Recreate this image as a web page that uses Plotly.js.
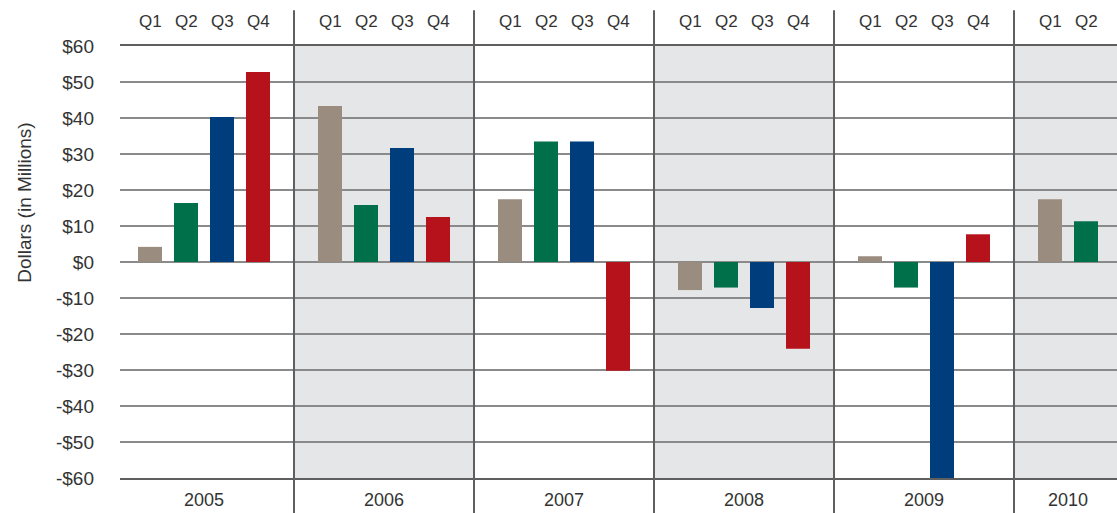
<!DOCTYPE html>
<html>
<head>
<meta charset="utf-8">
<script src="https://cdn.plot.ly/plotly-3.0.1.min.js"></script>
<style>html,body{margin:0;padding:0;background:#fff;}#chart{width:1117px;height:513px;}</style>
</head>
<body>
<div id="chart"></div>
<script>
// ---- data ----
const years = ['2005', '2006', '2007', '2008', '2009', '2010'];
const quarters = ['Q1', 'Q2', 'Q3', 'Q4'];
const q1Values = [4.2, 43.3, 17.4, -7.8, 1.6, 17.4];
const q2Values = [16.4, 15.8, 33.5, -7.1, -7.1, 11.3];
const q3Values = [40.3, 31.7, 33.5, -12.8, -60.0, null];
const q4Values = [52.8, 12.5, -30.2, -24.1, 7.7, null];
const yTickValues = [60, 50, 40, 30, 20, 10, 0, -10, -20, -30, -40, -50, -60];
const yTickLabels = ['$60', '$50', '$40', '$30', '$20', '$10', '$0', '-$10', '-$20', '-$30', '-$40', '-$50', '-$60'];
const yTitle = 'Dollars (in Millions)';

// ---- styling ----
const seriesValues = [q1Values, q2Values, q3Values, q4Values];
const colors = ['#9a8c7e', '#00704a', '#003d7d', '#b5121b'];
const slotsPerYear = 5;
const font = 'Liberation Sans, Arial, Helvetica, sans-serif';
const pos = (yi, qi) => yi * slotsPerYear + qi + 1;

const traces = seriesValues.map((vals, qi) => ({
  type: 'bar',
  name: quarters[qi],
  x: years.map((y, yi) => pos(yi, qi)),
  y: vals,
  width: 0.667,
  marker: {color: colors[qi], line: {width: 0}},
  hoverinfo: 'skip',
  showlegend: false
}));

const shapes = [];
const annotations = [];
years.forEach((yr, yi) => {
  if (yi % 2 === 1) {
    shapes.push({type: 'rect', layer: 'below', xref: 'x', yref: 'y',
      x0: yi * slotsPerYear, x1: (yi + 1) * slotsPerYear, y0: -60, y1: 60,
      fillcolor: '#e5e6e8', line: {width: 0}});
  }
  if (yi > 0) {
    shapes.push({type: 'line', layer: 'above', xref: 'x', yref: 'paper',
      x0: yi * slotsPerYear, x1: yi * slotsPerYear, y0: -0.085, y1: 1.083,
      line: {color: '#5f5f5f', width: 2}});
  }
  const present = quarters.map((q, qi) => qi).filter(qi => seriesValues[qi][yi] !== null);
  present.forEach(qi => {
    annotations.push({xref: 'x', yref: 'paper', x: pos(yi, qi), y: 1.0556,
      text: quarters[qi], showarrow: false, xanchor: 'center', yanchor: 'middle',
      font: {family: font, size: 17, color: '#333'}});
  });
  const mid = present.reduce((s, qi) => s + pos(yi, qi), 0) / present.length;
  annotations.push({xref: 'x', yref: 'paper', x: mid, y: -0.051,
    text: yr, showarrow: false, xanchor: 'center', yanchor: 'middle',
    font: {family: font, size: 18, color: '#333'}});
});
annotations.push({xref: 'paper', yref: 'paper', x: -0.0953, y: 0.637,
  text: yTitle, textangle: -90, showarrow: false, xanchor: 'center', yanchor: 'middle',
  font: {family: font, size: 19, color: '#333'}});

const layout = {
  width: 1117, height: 513,
  margin: {l: 120, r: 0, t: 46, b: 35, pad: 0},
  paper_bgcolor: '#fff', plot_bgcolor: '#fff',
  barmode: 'overlay',
  font: {family: font, color: '#333'},
  xaxis: {range: [0.1667, 27.861], showgrid: false, zeroline: false,
    showticklabels: false, ticks: '', showline: true, mirror: true,
    linecolor: '#5f5f5f', linewidth: 2, fixedrange: true},
  yaxis: {range: [-60, 60], tickvals: yTickValues, ticktext: yTickLabels,
    showgrid: true, gridcolor: '#8a8a8a', gridwidth: 1.5, zeroline: false,
    showline: false, ticks: '', ticklabelstandoff: 25,
    tickfont: {family: font, size: 19, color: '#333'}, fixedrange: true},
  shapes: shapes,
  annotations: annotations
};

Plotly.newPlot('chart', traces, layout, {displayModeBar: false, staticPlot: true});
</script>
</body>
</html>
